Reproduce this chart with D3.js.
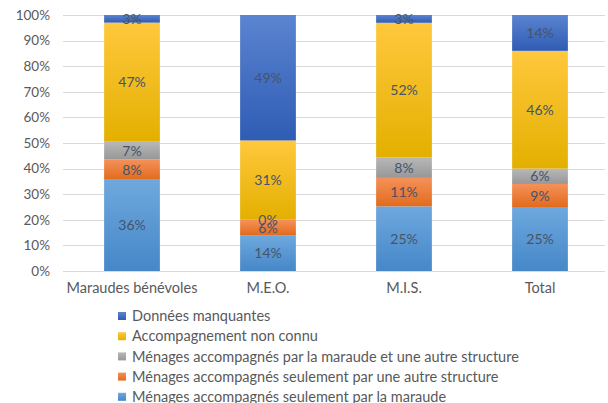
<!DOCTYPE html>
<html><head><meta charset="utf-8">
<script src="https://cdn.jsdelivr.net/npm/d3@7"></script>
<style>body{margin:0;background:#fff}svg{display:block}</style>
</head><body>
<svg id="c" width="608" height="403"></svg>
<script>
const categories = ["Maraudes bénévoles", "M.E.O.", "M.I.S.", "Total"];
const seriesNames = [
  "Ménages accompagnés seulement par la maraude",
  "Ménages accompagnés seulement par une autre structure",
  "Ménages accompagnés par la maraude et une autre structure",
  "Accompagnement non connu",
  "Données manquantes"
];
const seulMaraude = [36, 14, 25, 25];
const seulAutre   = [8, 6, 11, 9];
const maraudeEtAutre = [7, 0, 8, 6];
const nonConnu    = [47, 31, 52, 46];
const manquantes  = [3, 49, 3, 14];
const yTicks = [0, 0.1, 0.2, 0.3, 0.4, 0.5, 0.6, 0.7, 0.8, 0.9, 1];

const colors = [
  ["#6ea8de", "#4687c8"],
  ["#f4915a", "#e26b1c"],
  ["#b8b8b8", "#979797"],
  ["#ffc83d", "#e3b000"],
  ["#5b84d0", "#2f5cb4"]
];
const seriesValues = [seulMaraude, seulAutre, maraudeEtAutre, nonConnu, manquantes];
const rows = categories.map((c, i) => {
  const r = {cat: c};
  seriesNames.forEach((s, k) => r[s] = seriesValues[k][i]);
  return r;
});

const svg = d3.select("#c");
const font = "Lato, 'Open Sans', sans-serif";
const m = {left: 64, right: 0, top: 15, bottom: 132};
const W = 608, H = 403;
const x = d3.scaleBand().domain(categories).range([m.left, W]).paddingInner(0.59).paddingOuter(0.295);
const y = d3.scaleLinear().domain([0, 1]).range([271, 15]);

const defs = svg.append("defs");
colors.forEach((c, k) => {
  const g = defs.append("linearGradient").attr("id", "g" + k).attr("x1", 0).attr("y1", 0).attr("x2", 0).attr("y2", 1);
  g.append("stop").attr("offset", "0%").attr("stop-color", c[0]);
  g.append("stop").attr("offset", "100%").attr("stop-color", c[1]);
});

// grid
svg.append("g").selectAll("line").data(yTicks).join("line")
  .attr("x1", 63).attr("x2", 605)
  .attr("y1", d => Math.round(y(d)) + 0.5).attr("y2", d => Math.round(y(d)) + 0.5)
  .attr("stroke", "#d9d9d9").attr("stroke-width", 1);

// y axis labels
const yAxis = d3.axisLeft(y).tickValues(yTicks).tickFormat(d3.format(".0%")).tickSize(0).tickPadding(0);
const ya = svg.append("g").attr("transform", "translate(50,0)").call(yAxis);
ya.select(".domain").remove();
ya.selectAll("text").attr("fill", "#595959").style("font-family", font).style("font-size", "13.5px");

// stack
const stack = d3.stack().keys(seriesNames).offset(d3.stackOffsetExpand);
const stacked = stack(rows);

const layers = svg.append("g").selectAll("g").data(stacked).join("g")
  .attr("fill", (d, k) => `url(#g${k})`);
layers.selectAll("rect").data(d => d.map(p => ({p, key: d.key}))).join("rect")
  .attr("x", d => x(d.p.data.cat))
  .attr("width", x.bandwidth())
  .attr("y", d => y(d.p[1]))
  .attr("height", d => y(d.p[0]) - y(d.p[1]));

// labels
const lab = svg.append("g");
stacked.forEach((s, k) => {
  s.forEach(p => {
    const v = p.data[s.key];
    lab.append("text")
      .attr("x", x(p.data.cat) + x.bandwidth() / 2)
      .attr("y", (y(p[0]) + y(p[1])) / 2)
      .attr("dy", "0.36em")
      .attr("text-anchor", "middle")
      .attr("fill", "#44546a")
      .style("font-family", font).style("font-size", "14px")
      .text(v + "%");
  });
});

// x axis labels
const xAxis = d3.axisBottom(x).tickSize(0).tickPadding(0);
const xa = svg.append("g").attr("transform", "translate(0,283)").call(xAxis);
xa.select(".domain").remove();
xa.selectAll("text").attr("fill", "#595959").style("font-family", font).style("font-size", "14.5px");

// legend
const legendOrder = seriesNames.map((s, k) => ({s, k})).reverse();
const lg = svg.append("g").attr("transform", "translate(118,316)");
const li = lg.selectAll("g").data(legendOrder).join("g").attr("transform", (d, i) => `translate(0,${i * 20.2})`);
li.append("rect").attr("x", 0).attr("y", -4).attr("width", 8).attr("height", 8).attr("fill", d => `url(#g${d.k})`);
li.append("text").attr("x", 14).attr("dy", "0.36em").attr("fill", "#595959")
  .style("font-family", font).style("font-size", "14.5px").text(d => d.s);
</script>
</body></html>
